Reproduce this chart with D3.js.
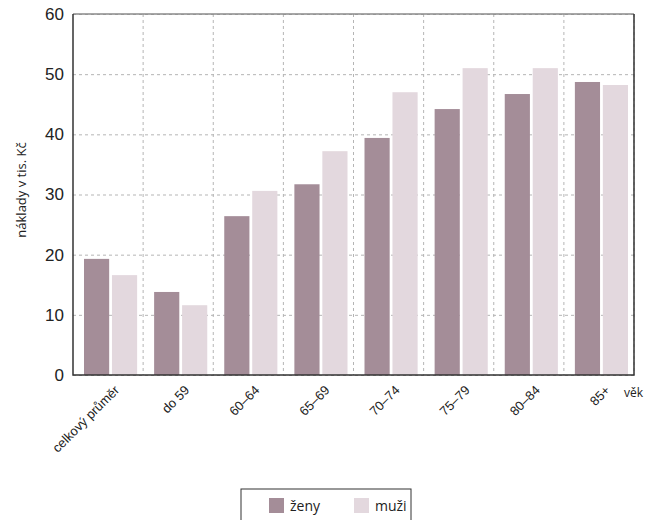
<!DOCTYPE html>
<html lang="cs">
<head>
    <meta charset="UTF-8">
    <title>Náklady</title>
    <script src="https://d3js.org/d3.v7.min.js"></script>
    <style>
        body { margin: 0; background: #fff; font-family: "Open Sans", sans-serif; }
        .grid line { stroke: #b5b5b5; stroke-dasharray: 3 3; }
        .grid .domain { display: none; }
        .y-axis text { font-size: 17px; fill: #222; }
        .x-axis text { font-size: 13px; fill: #222; }
        .y-axis .domain, .x-axis .domain { display: none; }
        .y-axis .tick line, .x-axis .tick line { display: none; }
    </style>
</head>
<body>
<script>
    const categories = ["celkový průměr", "do 59", "60–64", "65–69", "70–74", "75–79", "80–84", "85+"];
    const zeny = [19.3, 13.8, 26.4, 31.7, 39.4, 44.2, 46.7, 48.7];
    const muzi = [16.6, 11.6, 30.6, 37.2, 47.0, 51.0, 51.0, 48.2];
    const yTicks = [0, 10, 20, 30, 40, 50, 60];
    const seriesNames = ["ženy", "muži"];
    const colors = ["#a48d98", "#e3d8de"];

    const width = 645, height = 520;
    const plotL = 73, plotR = 634, plotT = 14, plotB = 375;

    const svg = d3.select("body").append("svg")
        .attr("width", width).attr("height", height);

    const x = d3.scaleBand().domain(categories).range([plotL, plotR]).padding(0);
    const y = d3.scaleLinear().domain([0, 60]).range([plotB, plotT]);

    // inner scale for the two bars in each group
    const xs = d3.scaleBand().domain(seriesNames)
        .range([11, x.bandwidth() - 6]).paddingInner(0.1);

    // grid
    svg.append("g").attr("class", "grid")
        .attr("transform", `translate(0,${plotT})`)
        .call(d3.axisBottom(x).tickSize(plotB - plotT).tickFormat(""))
        .selectAll(".tick").attr("transform", d => `translate(${x(d) + x.bandwidth()},0)`);
    svg.append("g").attr("class", "grid")
        .attr("transform", `translate(${plotL},0)`)
        .call(d3.axisRight(y).tickValues(yTicks).tickSize(plotR - plotL).tickFormat(""));

    // bars
    const groups = svg.append("g").selectAll("g")
        .data(categories).join("g")
        .attr("transform", d => `translate(${x(d)},0)`);
    groups.selectAll("rect")
        .data((d, i) => [zeny[i], muzi[i]].map((v, j) => ({k: seriesNames[j], v, c: colors[j]})))
        .join("rect")
        .attr("x", d => xs(d.k))
        .attr("width", xs.bandwidth())
        .attr("y", d => y(d.v))
        .attr("height", d => y(0) - y(d.v))
        .attr("fill", d => d.c);

    // frame
    svg.append("line").attr("x1", plotL).attr("x2", plotR).attr("y1", plotT).attr("y2", plotT)
        .attr("stroke", "#8a8a8a").attr("stroke-width", 1.5);
    svg.append("path")
        .attr("d", `M${plotL},${plotT}V${plotB}H${plotR}V${plotT}`)
        .attr("fill", "none").attr("stroke", "#333").attr("stroke-width", 1.5);

    // y axis
    svg.append("g").attr("class", "y-axis")
        .attr("transform", `translate(${plotL},0)`)
        .call(d3.axisLeft(y).tickValues(yTicks).tickSize(0).tickPadding(9));

    // x axis, slanted labels
    svg.append("g").attr("class", "x-axis")
        .attr("transform", `translate(0,${plotB})`)
        .call(d3.axisBottom(x).tickSize(0))
        .selectAll("text")
        .attr("text-anchor", "end")
        .attr("x", 0).attr("y", 0).attr("dy", 0)
        .attr("transform", "translate(12,16) rotate(-45)");

    svg.append("text").attr("x", 624).attr("y", 397)
        .attr("font-size", 12).attr("fill", "#222").text("věk");

    svg.append("text")
        .attr("transform", "translate(26,190) rotate(-90)")
        .attr("text-anchor", "middle").attr("font-size", 13).attr("fill", "#222")
        .text("náklady v tis. Kč");

    // legend
    svg.append("rect").attr("x", 241).attr("y", 489).attr("width", 170).attr("height", 40)
        .attr("fill", "#fff").attr("stroke", "#333").attr("stroke-width", 1);
    const lx = [269, 354];
    seriesNames.forEach((n, i) => {
        svg.append("rect").attr("x", lx[i]).attr("y", 498).attr("width", 15).attr("height", 15)
            .attr("fill", colors[i]);
        svg.append("text").attr("x", lx[i] + 21).attr("y", 511)
            .attr("font-size", 14).attr("fill", "#222").text(n);
    });
</script>
</body>
</html>
